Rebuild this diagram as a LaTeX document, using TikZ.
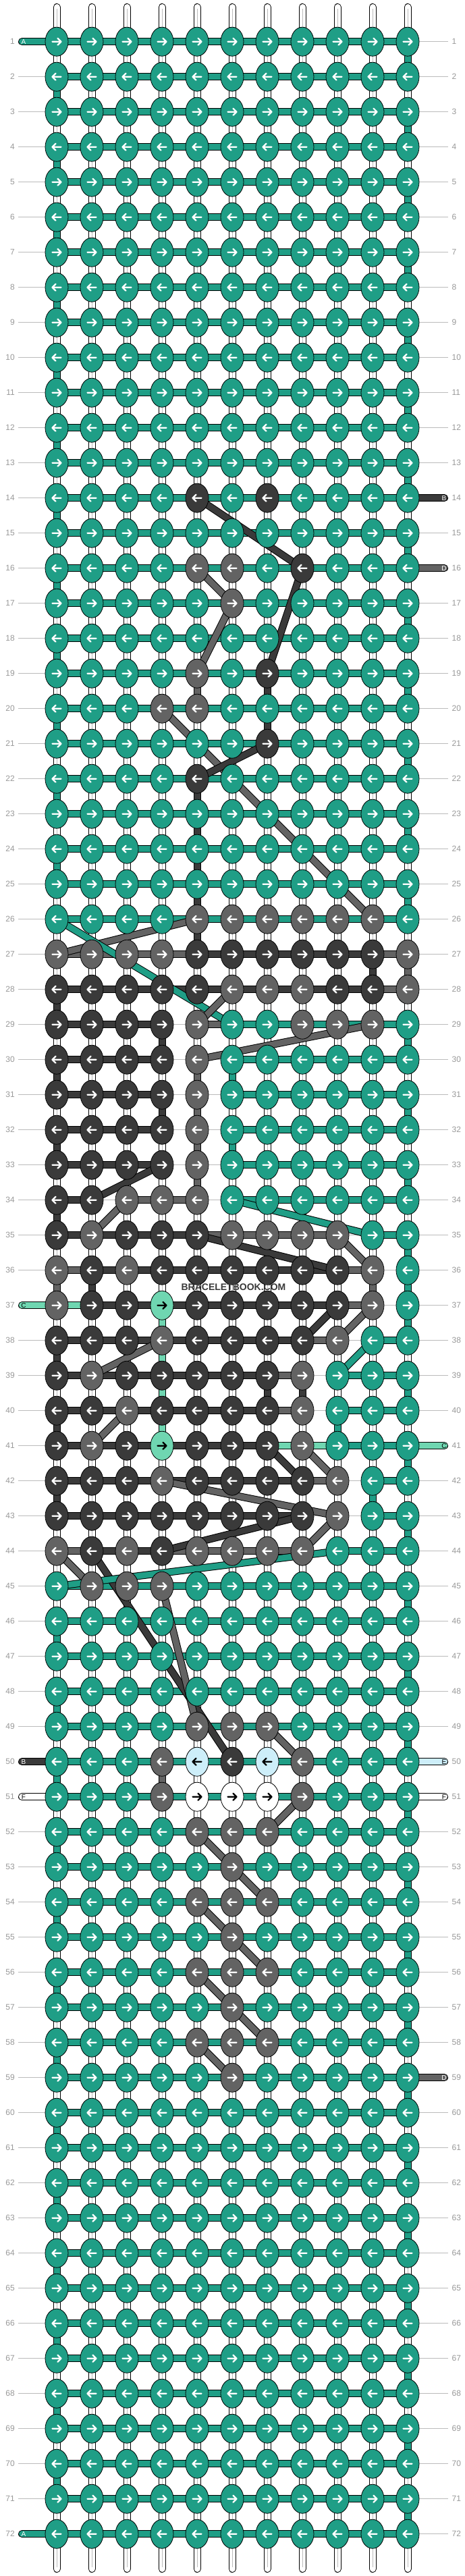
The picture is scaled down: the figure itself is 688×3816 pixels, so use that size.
\documentclass[tikz,border=0pt]{standalone}
\usepackage{fontspec}
\setmainfont{Liberation Sans}
\usetikzlibrary{shapes.geometric}
\definecolor{kt}{HTML}{1F9E86}
\definecolor{kd}{HTML}{3A3A3A}
\definecolor{kg}{HTML}{636363}
\definecolor{kl}{HTML}{6FD6B1}
\definecolor{kb}{HTML}{CDEEF9}
\definecolor{kw}{HTML}{FFFFFF}
\definecolor{rowgray}{HTML}{999999}
\definecolor{linegray}{HTML}{BBBBBB}
\pgfdeclarelayer{bg}
\pgfsetlayers{bg,main}

\begin{document}
\begin{tikzpicture}[x=1pt, y=-1pt,
    knot/.style={ellipse, draw=black, line width=0.8pt, fill=#1, minimum width=34pt, minimum height=43pt, inner sep=0pt},
    seg/.style={draw=black, line width=1pt, double=#1, double distance=9pt},
    bar-t/.style={seg=kt}, bar-d/.style={seg=kd}, bar-g/.style={seg=kg}, bar-l/.style={seg=kl}, bar-n/.style={},
    ar-t/.style={draw=white}, ar-d/.style={draw=white}, ar-g/.style={draw=white},
    ar-l/.style={draw=black}, ar-b/.style={draw=black}, ar-w/.style={draw=black},
    tx-t/.style={text=white}, tx-d/.style={text=white}, tx-g/.style={text=white},
    tx-l/.style={text=black}, tx-b/.style={text=black}, tx-w/.style={text=black}]
  \tikzstyle{arr} = [line width=2.2pt, line cap=round, line join=round]
  \tikzstyle{rownum} = [font=\fontsize{12}{12}\selectfont, text=rowgray, inner sep=0pt]
  \tikzstyle{captext} = [font=\fontsize{10}{10}\selectfont, inner sep=0pt]
  \tikzstyle{rowline} = [draw=linegray, line width=1pt]
  \tikzstyle{warpline} = [draw=linegray, line width=0.8pt, shorten <=3pt, shorten >=3pt]
  \tikzstyle{wmark} = [font=\bfseries\fontsize{14}{14}\selectfont, text=kd, inner sep=0pt]
  \useasboundingbox (0,0) rectangle (688,3816);

  \foreach \r/\kl in {14/{5/d,7/d}, 16/{5/g,6/g,8/d}, 17/{6/g}, 19/{5/g,7/d}, 20/{4/g,5/g}, 21/{7/d}, 22/{5/d},
      26/{5/g,6/g,7/g,8/g,9/g,10/g},
      27/{1/g,2/g,3/g,4/g,5/d,6/d,7/d,8/d,9/d,10/d,11/g},
      28/{1/d,2/d,3/d,4/d,5/d,6/g,7/g,8/g,9/d,10/d,11/g},
      29/{1/d,2/d,3/d,4/d,5/g,8/g,9/g,10/g},
      30/{1/d,2/d,3/d,4/d,5/g}, 31/{1/d,2/d,3/d,4/d,5/g}, 32/{1/d,2/d,3/d,4/d,5/g}, 33/{1/d,2/d,3/d,4/d,5/g},
      34/{1/d,2/d,3/g,4/g,5/g},
      35/{1/d,2/g,3/d,4/d,5/d,6/g,7/g,8/g,9/g},
      36/{1/g,2/d,3/g,4/d,5/d,6/d,7/d,8/d,9/d,10/g},
      37/{1/g,2/d,3/d,4/l,5/d,6/d,7/d,8/d,9/d,10/g},
      38/{1/d,2/d,3/d,4/g,5/d,6/d,7/d,8/d,9/g},
      39/{1/d,2/g,3/d,4/d,5/d,6/d,7/d,8/g},
      40/{1/d,2/d,3/g,4/d,5/d,6/d,7/d,8/g},
      41/{1/d,2/g,3/d,4/l,5/d,6/d,7/d,8/g},
      42/{1/d,2/d,3/d,4/g,5/d,6/d,7/d,8/d,9/g},
      43/{1/d,2/d,3/d,4/d,5/d,6/d,7/d,8/d,9/g},
      44/{1/g,2/d,3/g,4/d,5/g,6/g,7/g,8/g},
      45/{2/g,3/g,4/g}, 49/{5/g,6/g,7/g},
      50/{4/g,5/b,6/d,7/b,8/g}, 51/{4/g,5/w,6/w,7/w,8/g},
      52/{5/g,6/g,7/g}, 53/{6/g}, 54/{5/g,6/g,7/g}, 55/{6/g},
      56/{5/g,6/g,7/g}, 57/{6/g}, 58/{5/g,6/g,7/g}, 59/{6/g}}
    {\foreach \c/\k in \kl {\expandafter\xdef\csname kc\r-\c\endcsname{\k}}}

  \foreach \r in {1,...,72} {
    \pgfmathtruncatemacro\s{1-2*mod(\r+1,2)}
    \foreach \c in {1,...,11} {
      \ifcsname kc\r-\c\endcsname \edef\kk{\csname kc\r-\c\endcsname}\else \def\kk{t}\fi
      \node[knot=k\kk] (k\r-\c) at ({32+52*\c},{9.7+52*\r}) {};
      \draw[arr, ar-\kk, shift={(k\r-\c.center)}, xscale=\s] (-6.5,0) -- (6.5,0) (1.5,-5) -- (6.5,0) -- (1.5,5);
    }
  }

  \begin{pgfonlayer}{bg}
    \fill[white] (0,0) rectangle (688,3816);
    \foreach \r in {1,...,72} {
      \coordinate (lft\r) at (26.5,{9.7+52*\r});
      \coordinate (rgt\r) at (664,{9.7+52*\r});
      \draw[rowline] (lft\r) -- (rgt\r);
      \node[rownum, anchor=east] (ln\r) at (22,{9.7+52*\r}) {\r};
      \node[rownum, anchor=west] (rn\r) at (669.5,{9.7+52*\r}) {\r};
    }
    \foreach \c in {1,...,11} {
      \coordinate (top\c) at ({32+52*\c},10.5);
      \coordinate (bot\c) at ({32+52*\c},3805.5);
      \draw[seg=white, line cap=round] (top\c) -- (bot\c);
      \draw[warpline] (top\c) -- (bot\c);
    }
    \foreach \r in {1,...,25,45,46,...,71} {
      \pgfmathtruncatemacro\c{1+10*mod(\r,2)}
      \pgfmathtruncatemacro\rr{\r+1}
      \draw[seg=kt] (k\r-\c.center) -- (k\rr-\c.center);
    }
    \foreach \r/\c/\k in {19/5/g, 19/7/d, 20/7/d, 22/5/d, 23/5/d, 24/5/d, 25/5/d, 26/5/d, 27/10/d, 27/11/g,
        28/1/d, 29/4/d, 29/11/t, 30/1/d, 30/5/g, 30/6/t, 31/4/d, 31/5/g, 31/11/t, 32/1/d, 32/5/g, 32/6/t,
        33/5/g, 33/11/t, 34/1/d, 35/11/t, 36/1/g, 36/2/d, 36/10/g, 36/11/t, 37/4/l, 37/11/t, 38/1/d, 38/4/l,
        39/4/l, 39/7/d, 39/8/d, 39/11/t, 40/1/d, 40/4/l, 40/9/t, 41/11/t, 42/1/d, 42/10/t, 43/11/t, 50/4/g} {
      \pgfmathtruncatemacro\rr{\r+1}
      \draw[seg=k\k] (k\r-\c.center) -- (k\rr-\c.center);
    }
    \foreach \r in {1,...,26,45,46,...,72}
      \foreach \c in {1,...,10} {
        \pgfmathtruncatemacro\cc{\c+1}
        \draw[seg=kt] (k\r-\c.center) -- (k\r-\cc.center);
      }
    \foreach \r/\bl in {27/{g,g,g,g,d,d,d,d,d,g}, 28/{d,d,d,d,d,d,d,d,d,g},
        29/{d,d,d,n,g,t,t,t,t,t}, 30/{d,d,d,n,n,t,t,t,t,t}, 31/{d,d,d,n,n,t,t,t,t,t},
        32/{d,d,d,n,n,t,t,t,t,t}, 33/{d,d,d,n,n,t,t,t,t,t}, 34/{d,n,g,g,n,t,t,t,t,t},
        35/{d,d,d,d,g,g,g,g,n,t}, 36/{g,d,d,d,d,d,d,d,g,n}, 37/{l,d,d,d,d,d,d,d,g,n},
        38/{d,d,d,d,d,d,d,g,n,t}, 39/{d,d,d,d,d,d,g,n,t,t}, 40/{d,d,d,d,d,d,g,n,t,t},
        41/{d,d,d,d,d,d,l,l,t,t}, 42/{d,d,d,d,d,d,d,g,n,t}, 43/{d,d,d,d,d,d,d,n,n,t},
        44/{g,d,d,g,g,g,g,n,t,t}} {
      \foreach \b [count=\c] in \bl {
        \pgfmathtruncatemacro\cc{\c+1}
        \path[bar-\b] (k\r-\c.center) -- (k\r-\cc.center);
      }
    }
    \foreach \ra/\ca/\rb/\cb/\k in {14/5/16/8/d, 16/8/19/7/d, 16/5/17/6/g, 17/6/19/5/g, 20/4/26/10/g,
        21/7/22/5/d, 26/5/27/1/g, 26/1/29/6/t, 28/6/29/5/g, 29/10/30/5/g, 33/4/34/2/d, 34/3/35/2/g,
        34/6/35/10/t, 35/5/36/9/d, 35/9/36/10/g, 37/9/38/8/d, 37/10/38/9/g, 38/4/39/2/g, 38/10/39/9/t,
        40/3/41/2/g, 41/7/42/8/d, 41/8/42/9/g, 42/4/43/9/g, 43/8/44/4/d, 43/9/44/8/g, 44/1/45/2/g,
        44/2/50/6/d, 44/9/45/1/t, 45/4/49/5/g, 49/7/50/8/g, 51/8/52/7/g, 52/5/53/6/g, 53/6/54/7/g,
        54/5/55/6/g, 55/6/56/7/g, 56/5/57/6/g, 57/6/58/7/g, 58/5/59/6/g}
      \draw[seg=k\k] (k\ra-\ca.center) -- (k\rb-\cb.center);
    \foreach \r/\c/\xe/\xt/\k/\nm in {1/1/32.5/35/t/A, 14/11/658.5/658/d/B, 16/11/658.5/658/g/D,
        37/1/32.5/35/l/C, 41/11/658.5/658/l/C, 50/1/32.5/35/d/B, 50/11/658.5/658/b/E,
        51/1/32.5/35/w/F, 51/11/658.5/658/w/F, 59/11/658.5/658/g/D, 72/1/32.5/35/t/A} {
      \coordinate (cap\r-\c) at (\xe,{9.7+52*\r});
      \draw[seg=k\k, line cap=round] (cap\r-\c) -- (k\r-\c.center);
      \node[captext, tx-\k] (lt\r-\c) at (\xt,{9.7+52*\r}) {\nm};
    }
  \end{pgfonlayer}

  \node[wmark] (wm) at (346,1907) {BRACELETBOOK.COM};
\end{tikzpicture}
\end{document}
